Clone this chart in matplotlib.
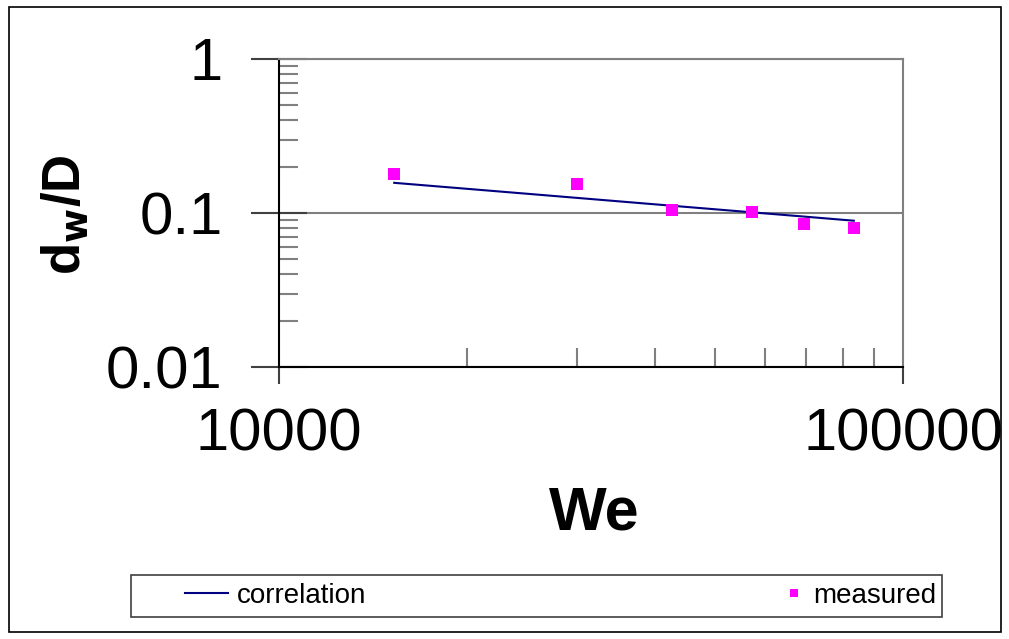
import numpy as np
import matplotlib
matplotlib.use("Agg")
import matplotlib.pyplot as plt
from matplotlib.patches import Rectangle
from matplotlib.lines import Line2D

plt.rcParams["font.family"] = ["Liberation Sans", "DejaVu Sans"]

# measured points
we_meas = [15300, 30000, 42600, 57300, 69400, 83400]
d_meas = [0.179, 0.155, 0.1046, 0.1015, 0.0852, 0.0802]

# correlation curve
we_corr = [15300, 20000, 25000, 30000, 35000, 42600, 50000, 57300, 69400, 83400]
d_corr = [0.157, 0.1436, 0.1333, 0.1254, 0.1191, 0.1115, 0.1057, 0.1010, 0.0948, 0.0891]

W, H = 1009, 639
fig = plt.figure(figsize=(W / 100, H / 100), dpi=100)

# outer frame
fig.patches.append(Rectangle((9 / W, 1 - 632 / H), 992 / W, 625 / H, transform=fig.transFigure,
                             fill=False, edgecolor="black", linewidth=1.2))

x0, x1, y0, y1 = 279, 903, 59, 367
ax = fig.add_axes([x0 / W, 1 - y1 / H, (x1 - x0) / W, (y1 - y0) / H])

ax.plot(we_corr, d_corr, color="#000080", linewidth=1.5, label="correlation")
ax.plot(we_meas, d_meas, linestyle="none", marker="s", markersize=8.5, color="#ff00ff",
        markeredgewidth=0, label="measured")

ax.set_xscale("log")
ax.set_yscale("log")
ax.set_xlim(10000, 100000)
ax.set_ylim(0.01, 1)

ax.set_yticks([0.01, 0.1, 1])
ax.set_yticklabels(["0.01", "0.1", "1"])
ax.set_xticks([10000, 100000])
ax.set_xticklabels(["10000", "100000"])

ax.yaxis.grid(True, which="major", color="#808080", linewidth=1.5)
ax.set_axisbelow(True)

ax.tick_params(axis="y", which="major", direction="inout", length=41, width=1.5,
               color="#404040", labelsize=43, pad=20)
ax.tick_params(axis="y", which="minor", direction="in", length=14, width=1.5, color="#808080")
ax.tick_params(axis="x", which="major", direction="out", length=12, width=1.5,
               color="#404040", labelsize=43, pad=17)
ax.tick_params(axis="x", which="minor", direction="in", length=14, width=1.5, color="#808080")
ax.xaxis.set_minor_formatter(matplotlib.ticker.NullFormatter())
ax.yaxis.set_minor_formatter(matplotlib.ticker.NullFormatter())

for s in ["top", "right"]:
    ax.spines[s].set_color("#808080")
    ax.spines[s].set_linewidth(1.5)
for s in ["left", "bottom"]:
    ax.spines[s].set_color("black")
    ax.spines[s].set_linewidth(1.5)

fig.text(65 / W, 1 - 215 / H, r"d$_\mathbf{w}$/D", rotation=90, ha="center", va="center",
         fontsize=38, fontweight="bold")
fig.text(594 / W, 1 - 514 / H, "We", ha="center", va="center", fontsize=44, fontweight="bold")

# legend
fig.patches.append(Rectangle((131 / W, 1 - 617 / H), 811 / W, 42 / H, transform=fig.transFigure,
                             fill=False, edgecolor="#404040", linewidth=1.2))
h1 = Line2D([], [], color="#000080", linewidth=1.5)
h2 = Line2D([], [], linestyle="none", marker="s", markersize=6, color="#ff00ff", markeredgewidth=0)
fs = 20
em = fs * 100 / 72
leg1 = fig.legend([h1], ["correlation"], loc="center left",
                  bbox_to_anchor=(185 / W, 1 - 596 / H), frameon=False, fontsize=fs,
                  borderpad=0, borderaxespad=0, handlelength=43 / em, handletextpad=9 / em)
leg2 = fig.legend([h2], ["measured"], loc="center left",
                  bbox_to_anchor=(783 / W, 1 - 596 / H), frameon=False, fontsize=fs,
                  borderpad=0, borderaxespad=0, handlelength=22 / em, handletextpad=8 / em)

fig.savefig("out.png", dpi=100)
